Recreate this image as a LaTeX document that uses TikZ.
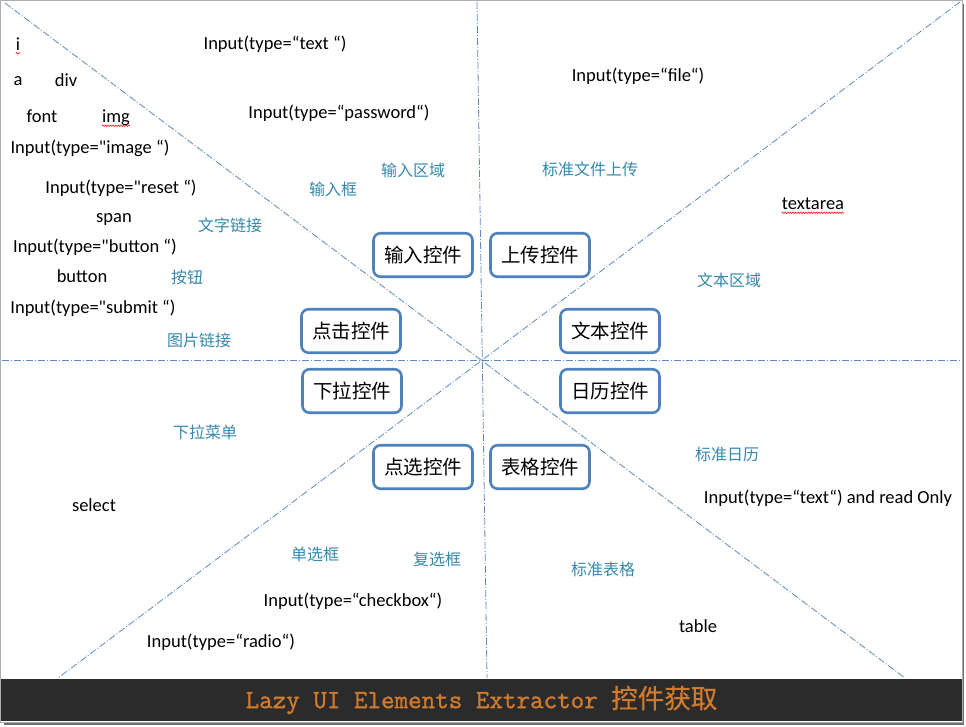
\documentclass[tikz,border=0pt]{standalone}
\usepackage{fontspec}
\setmainfont{Carlito}[Ligatures=TeXOff]
\newfontfamily\cjk{Noto Sans CJK SC}
\newfontfamily\bannerfont{Latin Modern Mono}[FakeBold=1.2]
\newfontfamily\bannercjk{Noto Sans CJK SC}[FakeBold=0.6]
\usepackage{xcolor}
\usetikzlibrary{decorations.pathmorphing}

\definecolor{framegray}{HTML}{A9AEB6}
\definecolor{shadowgray}{HTML}{6E6E6E}
\definecolor{splitblue}{HTML}{5E88C6}
\definecolor{boxblue}{HTML}{4F81BD}
\definecolor{notecyan}{HTML}{3589AD}
\definecolor{bannerdark}{HTML}{2B2B2B}
\definecolor{bannerorange}{HTML}{CF7A2C}

\tikzset{
  ctrl/.style={draw=boxblue, line width=2.6pt, rounded corners=7pt, fill=white,
    minimum width=99pt, minimum height=43.5pt, inner sep=0pt,
    font=\cjk\fontsize{19.5}{22}\selectfont},
  tag/.style={font=\fontsize{18.5}{21}\selectfont, inner sep=0pt},
  note/.style={font=\cjk\fontsize{16}{19}\selectfont, text=notecyan, inner sep=0pt},
  split/.style={draw=splitblue, line width=0.8pt, dash pattern=on 7pt off 2pt on 1pt off 2pt},
  typo/.style={draw=red, line width=0.5pt, decorate,
    decoration={snake, amplitude=0.8pt, segment length=2.6pt}}
}

\begin{document}
\begin{tikzpicture}[x=1pt,y=-1pt]
  \path[use as bounding box] (0,0) rectangle (966,726);
  % frame with shadow
  \fill[shadowgray] (4,4) rectangle (964,725);
  \fill[white,draw=framegray,line width=1pt] (0.5,0.5) rectangle (962,722);
  \fill[bannerdark] (1,679) rectangle (961.5,721);

  % dividing lines
  \coordinate (tl) at (5,3);
  \coordinate (br) at (905,678);
  \coordinate (tr) at (960,2);
  \coordinate (bl) at (58,678);
  \coordinate (top) at (477,2);
  \coordinate (bot) at (487,678);
  \coordinate (lft) at (2,360);
  \coordinate (rgt) at (961,360);
  \draw[split] (tl) -- (br);
  \draw[split] (tr) -- (bl);
  \draw[split] (top) -- (bot);
  \draw[split] (lft) -- (rgt);

  % control boxes
  \node[ctrl] (input)    at (423,255) {输入控件};
  \node[ctrl] (upload)   at (540,255) {上传控件};
  \node[ctrl] (click)    at (351,331) {点击控件};
  \node[ctrl] (textbox)  at (610,331) {文本控件};
  \node[ctrl] (dropdown) at (352,391) {下拉控件};
  \node[ctrl] (calendar) at (610,391) {日历控件};
  \node[ctrl] (choice)   at (423,467) {点选控件};
  \node[ctrl] (grid)     at (540,467) {表格控件};

  % click region
  \node[tag] (tagI)      at (18,44)  {i};
  \node[tag] (tagA)      at (18,81)  {a};
  \node[tag] (tagDiv)    at (66,80)  {div};
  \node[tag] (tagFont)   at (42,116) {font};
  \node[tag] (tagImg)    at (116,118) {img};
  \node[tag] (tagImage)  at (90,148) {Input(type="image “)};
  \node[tag] (tagReset)  at (121,188) {Input(type="reset “)};
  \node[tag] (tagSpan)   at (114,219) {span};
  \node[tag] (tagButton) at (95,247) {Input(type="button “)};
  \node[tag] (tagBtn)    at (82,276) {button};
  \node[tag] (tagSubmit) at (93,308) {Input(type="submit “)};
  \draw[typo] ([yshift=-3pt]tagI.base west) -- ([yshift=-3pt]tagI.base east);
  \draw[typo] ([yshift=-3pt]tagImg.base west) -- ([yshift=-3pt]tagImg.base east);
  \node[note] (noteLink)  at (230,225) {文字链接};
  \node[note] (noteBtn)   at (187,277) {按钮};
  \node[note] (notePic)   at (199,340) {图片链接};

  % input region
  \node[tag] (tagText)   at (275,44)  {Input(type=“text “)};
  \node[tag] (tagPass)   at (339,113) {Input(type=“password“)};
  \node[note] (noteArea)  at (413,170) {输入区域};
  \node[note] (noteField) at (333,189) {输入框};

  % upload and text regions
  \node[tag] (tagFile)   at (638,76)  {Input(type=“file“)};
  \node[note] (noteFile)  at (590,169) {标准文件上传};
  \node[tag] (tagArea)   at (813,204) {textarea};
  \draw[typo] ([yshift=-3pt]tagArea.base west) -- ([yshift=-3pt]tagArea.base east);
  \node[note] (noteText)  at (729,280) {文本区域};

  % dropdown and choice regions
  \node[note] (noteMenu)  at (205,432) {下拉菜单};
  \node[tag] (tagSelect) at (94,505)  {select};
  \node[note] (noteRadio) at (315,554) {单选框};
  \node[note] (noteCheck) at (437,559) {复选框};
  \node[tag] (tagCheck)  at (353,601) {Input(type=“checkbox“)};
  \node[tag] (tagRadio)  at (221,642) {Input(type=“radio“)};

  % calendar and grid regions
  \node[note] (noteCal)   at (727,454) {标准日历};
  \node[tag] (tagRead)   at (828,498) {Input(type=“text“) and read Only};
  \node[note] (noteGrid)  at (603,569) {标准表格};
  \node[tag] (tagTable)  at (698,626) {table};

  % banner
  \node[text=bannerorange, inner sep=0pt] (banner) at (481.5,700)
    {\bannerfont\fontsize{26.3}{28}\selectfont Lazy UI Elements Extractor {\bannercjk\fontsize{26.5}{28}\selectfont 控件获取}};
\end{tikzpicture}
\end{document}
